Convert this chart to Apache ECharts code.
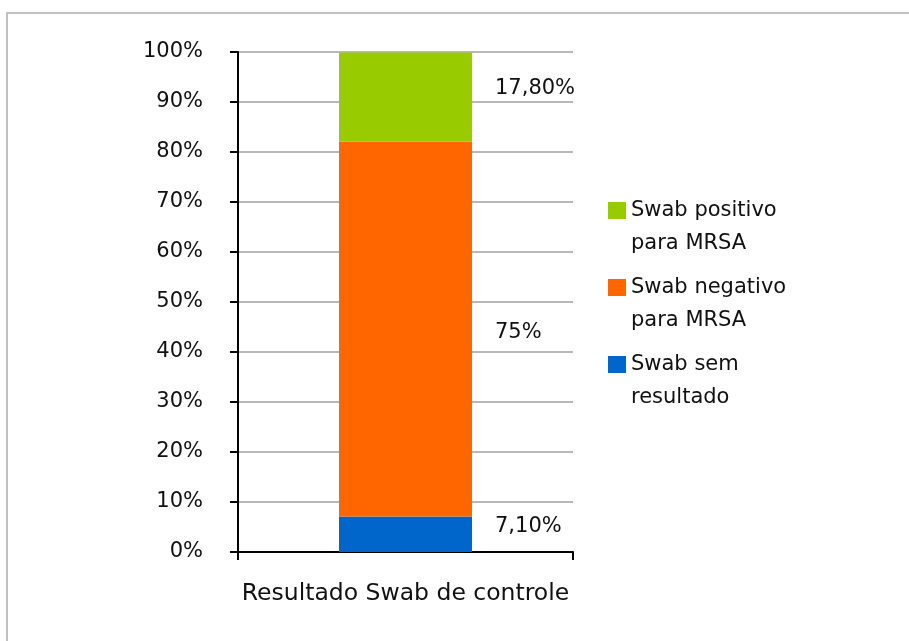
<!DOCTYPE html>
<html>
<head>
<meta charset="utf-8">
<script src="https://cdn.jsdelivr.net/npm/echarts@6/dist/echarts.min.js"></script>
<style>
  html, body { margin: 0; padding: 0; background: #fff; }
  #chart { width: 909px; height: 641px; }
</style>
</head>
<body>
<div id="chart"></div>
<script>
// dados do grafico
var categories = ['Resultado Swab de controle'];
var seriesNames = ['Swab sem\nresultado', 'Swab negativo\npara MRSA', 'Swab positivo\npara MRSA'];
var seriesValues = [7.1, 75, 17.8];
var valueLabels = ['7,10%', '75%', '17,80%'];
var seriesColors = ['#0066cc', '#ff6600', '#99cc00'];
var labelOffsets = [[0, -8], [0, 4], [0, -8]];

var myChart = echarts.init(document.getElementById('chart'));

var series = seriesNames.map(function (name, i) {
  return {
    name: name,
    type: 'bar',
    stack: 'total',
    barWidth: 133,
    itemStyle: { color: seriesColors[i] },
    label: {
      show: true,
      position: 'right',
      distance: 23,
      offset: labelOffsets[i],
      fontSize: 21,
      color: '#111',
      formatter: function () { return valueLabels[i]; }
    },
    data: [seriesValues[i]]
  };
});

var option = {
  animation: false,
  backgroundColor: '#fff',
  textStyle: { fontFamily: 'DejaVu Sans' },
  graphic: [{
    type: 'rect',
    shape: { x: 7, y: 13, width: 1200, height: 1000 },
    style: { fill: 'none', stroke: '#c0c0c0', lineWidth: 2 },
    silent: true
  }],
  legend: {
    orient: 'vertical',
    left: 608,
    top: 161,
    padding: 0,
    itemWidth: 18,
    itemHeight: 17,
    itemGap: -22,
    icon: 'rect',
    data: seriesNames.slice().reverse(),
    formatter: function (name) { return '\n' + name; },
    textStyle: { fontSize: 21, lineHeight: 33, color: '#111' }
  },
  grid: { left: 238, right: 336, top: 52, bottom: 89 },
  xAxis: {
    type: 'category',
    data: categories,
    axisLine: { lineStyle: { color: '#000', width: 2 } },
    axisTick: { show: true, length: 8, alignWithLabel: false, lineStyle: { color: '#000', width: 2 } },
    axisLabel: { fontSize: 23.5, margin: 30, color: '#111' }
  },
  yAxis: {
    type: 'value',
    min: 0,
    max: 100,
    interval: 10,
    axisLine: { show: true, lineStyle: { color: '#000', width: 2 } },
    axisTick: { show: true, length: 8, lineStyle: { color: '#000', width: 2 } },
    axisLabel: { formatter: '{value}%', fontSize: 21, margin: 35, color: '#111', padding: [7, 0, 0, 0] },
    splitLine: { lineStyle: { color: '#a0a0a0', width: 1.5 } }
  },
  series: series
};

myChart.setOption(option);
</script>
</body>
</html>
